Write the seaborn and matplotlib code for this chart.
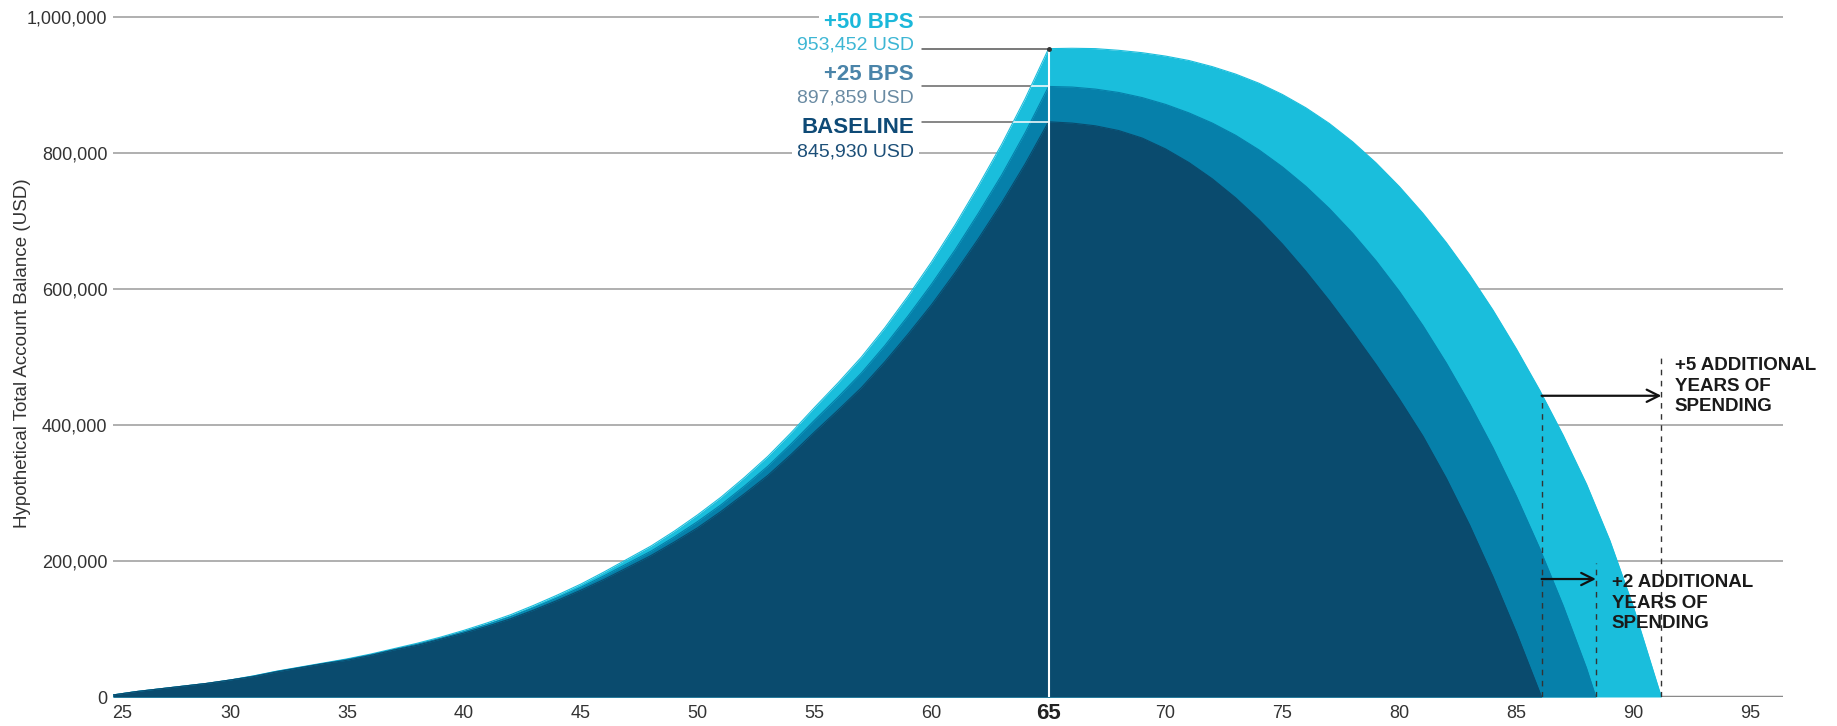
import matplotlib
matplotlib.use("Agg")
import matplotlib.pyplot as plt
import matplotlib.transforms as mtransforms
import pandas as pd
import seaborn as sns
from matplotlib.ticker import FuncFormatter

# ages 25..65: accumulation phase (values in thousands of USD)
acc_ages = list(range(25, 66))
outer_acc = [3, 8, 12, 16, 20, 25, 31, 38, 44, 50, 56, 63, 71, 79, 88, 98, 109, 121,
             135, 150, 166, 184, 203, 222, 244, 268, 294, 323, 354, 389, 426, 462, 500,
             543, 590, 640, 694, 752, 813, 880, 953.452]
mid_acc = [3, 8, 12, 15.9, 19.9, 24.8, 30.7, 37.6, 43.5, 49.3, 55.2, 62, 69.8, 77.5,
           86.2, 95.9, 106.4, 118, 131.4, 145.8, 161.2, 178.4, 196.5, 214.5, 235.5,
           258.2, 282.8, 310.3, 339.5, 372.5, 407.3, 441.1, 476.6, 516.8, 560.7, 607.3,
           657.5, 711.4, 767.9, 829.9, 897.859]
base_acc = [3, 8, 12, 16, 20, 25, 30, 37, 43, 49, 54, 61, 69, 76, 85, 94, 104, 115, 128,
            142, 157, 173, 190.5, 208, 228, 249, 273, 299, 326, 357, 390, 422, 455, 493,
            534, 577, 624, 674, 727, 784, 845.93]

# spending phase after 65
outer_dec_ages = list(range(66, 92)) + [91.2]
outer_dec = [954, 953.5, 951, 947.5, 942.5, 936, 927, 916, 902.5, 886, 866.5, 843.5,
             816.5, 785.5, 750.5, 711.5, 668.5, 621, 569, 512, 451, 385, 313, 230, 133,
             22, 0]
mid_dec_ages = list(range(66, 89)) + [88.4]
mid_dec = [897, 894, 889, 881.5, 871.5, 859, 844, 826, 804.5, 779.5, 751, 718.5, 682,
           641.5, 596.5, 546.5, 491.5, 431.5, 366.5, 295.5, 218.5, 134.5, 42.5, 0]
base_dec_ages = list(range(66, 87)) + [86.08]
base_dec = [844, 840, 833, 822, 806, 786, 762, 734, 702, 666, 626, 583, 537, 489, 438,
            384, 322, 253, 177, 95, 7, 0]

scenarios = ["+50 BPS", "+25 BPS", "BASELINE"]
peak_values = [953452, 897859, 845930]
fill_colors = ["#1ABEDC", "#0680AA", "#0A4B6E"]
label_colors = ["#1BB8DA", "#4A84A9", "#0E4A76"]
value_colors = ["#3DB6D4", "#6A8BA3", "#1C4F78"]

x_ticks = list(range(25, 100, 5))
y_ticks = [0, 200000, 400000, 600000, 800000, 1000000]

frames = []
for name, ages, vals in [
    ("+50 BPS", acc_ages + outer_dec_ages, outer_acc + outer_dec),
    ("+25 BPS", acc_ages + mid_dec_ages, mid_acc + mid_dec),
    ("BASELINE", acc_ages + base_dec_ages, base_acc + base_dec),
]:
    frames.append(pd.DataFrame({"age": ages, "balance": [v * 1000 for v in vals], "scenario": name}))
df = pd.concat(frames, ignore_index=True)

sns.set_theme(style="white")
plt.rcParams["font.family"] = ["Liberation Sans", "DejaVu Sans"]

fig = plt.figure(figsize=(18.37, 7.26), dpi=100)
ax = fig.add_axes([113 / 1837, 29 / 726, 1670 / 1837, 686.8 / 726])

polys = []
for i, name in enumerate(scenarios):
    sub = df[df["scenario"] == name]
    poly = ax.fill_between(sub["age"], 0, sub["balance"], color=fill_colors[i], lw=0, zorder=2 + i)
    polys.append(poly)
    sns.lineplot(data=sub, x="age", y="balance", color=fill_colors[i], lw=0.8,
                 ax=ax, zorder=2 + i, estimator=None)

# grid
for y in y_ticks[1:]:
    ax.axhline(y, color="#9a9a9a", lw=1.1, zorder=0.5)
ax.axhline(0, color="#8a8a8a", lw=2.5, zorder=1)

# vertical line at 65
ax.plot([65, 65], [0, peak_values[0]], color="white", lw=1.5, zorder=6)
ax.plot([65], [peak_values[0]], marker="o", ms=2.5, color="#333333", zorder=7)

# leader lines and labels
label_x = 59.24
ax.plot([59.6, 65], [peak_values[0]] * 2, color="#555555", lw=1.1, zorder=6)
for v in peak_values[1:]:
    ax.plot([59.6, 65], [v, v], color="#666666", lw=1.1, zorder=1.5)
    wl, = ax.plot([59.6, 65], [v, v], color="white", lw=1.1, zorder=6)
    wl.set_clip_path(polys[0].get_paths()[0], ax.transData)

name_y = [991900, 916000, 836800]
val_y = [958800, 880900, 801500]
box = dict(boxstyle="square,pad=0.25", fc="white", ec="none")
for i in range(3):
    ax.text(label_x, name_y[i], scenarios[i], ha="right", va="center", fontsize=16,
            fontweight="bold", color=label_colors[i], zorder=4, bbox=box)
    ax.text(label_x, val_y[i], f"{peak_values[i]:,} USD", ha="right", va="center",
            fontsize=14, color=value_colors[i], zorder=4, bbox=box)

# extra years annotations
dash = dict(color="#333333", lw=1.0, ls=(0, (4, 4)), zorder=7)
ax.plot([86.08, 86.08], [0, 443000], **dash)
ax.plot([91.2, 91.2], [0, 503000], **dash)
ax.plot([88.4, 88.4], [0, 197000], **dash)
arrow = dict(arrowstyle="->", color="#111111", lw=1.6, mutation_scale=22, shrinkA=0, shrinkB=0)
ax.annotate("", xy=(91.2, 443000), xytext=(86.08, 443000), arrowprops=arrow, zorder=8)
ax.annotate("", xy=(88.4, 173500), xytext=(86.08, 173500), arrowprops=arrow, zorder=8)
ax.text(91.77, 457000, "+5 ADDITIONAL\nYEARS OF\nSPENDING", ha="left", va="center",
        fontsize=13.5, fontweight="bold", color="#1a1a1a", linespacing=1.25, zorder=8)
ax.text(89.07, 138000, "+2 ADDITIONAL\nYEARS OF\nSPENDING", ha="left", va="center",
        fontsize=13.5, fontweight="bold", color="#1a1a1a", linespacing=1.25, zorder=8)

ax.set_xlim(25, 96.4)
ax.set_ylim(0, 1010000)
ax.set_xticks(x_ticks)
ax.set_yticks(y_ticks)
ax.yaxis.set_major_formatter(FuncFormatter(lambda v, p: f"{int(v):,}"))
ax.tick_params(axis="both", length=0, labelsize=13, labelcolor="#333333")
ax.tick_params(axis="x", pad=6)
ax.tick_params(axis="y", pad=4)
shift = mtransforms.ScaledTranslation(0.09, 0, fig.dpi_scale_trans)
up = mtransforms.ScaledTranslation(0, 0.02, fig.dpi_scale_trans)
for lbl in ax.get_xticklabels():
    if lbl.get_text() == "65":
        lbl.set_fontweight("bold")
        lbl.set_fontsize(16)
        lbl.set_color("#222222")
        lbl.set_transform(lbl.get_transform() + up)
    if lbl.get_text() == "25":
        lbl.set_transform(lbl.get_transform() + shift)
ax.set_xlabel("")
ax.set_ylabel("Hypothetical Total Account Balance (USD)", fontsize=13.5, color="#333333")
ax.yaxis.set_label_coords(-0.049, 0.5)
sns.despine(ax=ax, left=True, bottom=True)

fig.savefig("out.png", dpi=100, facecolor="white")
